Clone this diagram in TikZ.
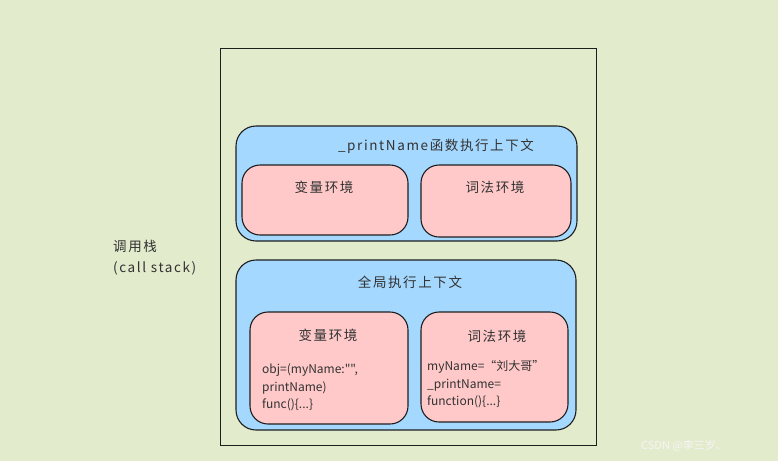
\documentclass[tikz,border=0pt]{standalone}
\usepackage{fontspec}
\setmainfont{Noto Sans CJK SC}
\newfontfamily\codefont{Noto Sans CJK SC}
\newfontfamily\headfont{Noto Sans CJK SC}[LetterSpace=12]
\usetikzlibrary{positioning}
\definecolor{bgreen}{RGB}{227,235,205}
\definecolor{ctxblue}{RGB}{165,216,255}
\definecolor{envpink}{RGB}{255,201,201}
\definecolor{inkdark}{RGB}{30,30,30}
\definecolor{txtgray}{RGB}{50,50,50}
\tikzset{
  ctxbox/.style={draw=inkdark, line width=1.1pt, fill=ctxblue, rounded corners=20pt},
  envbox/.style={draw=inkdark, line width=1.1pt, fill=envpink, rounded corners=18pt},
  headtxt/.style={text=txtgray, font=\headfont\fontsize{13.5}{15}\selectfont, inner sep=0pt},
  codetxt/.style={text=txtgray, font=\codefont\fontsize{12}{17.5}\selectfont, align=left, inner sep=0pt, anchor=west}
}
\begin{document}
\begin{tikzpicture}[x=1pt,y=-1pt]
\fill[bgreen] (0,0) rectangle (778,461);
\useasboundingbox (0,0) rectangle (778,461);
% call stack frame
\node[draw=inkdark, line width=0.9pt, minimum width=376pt, minimum height=397pt, inner sep=0pt] (stack) at (408,246.5) {};
\node[headtxt, align=left, anchor=west, font=\headfont\fontsize{13.5}{21}\selectfont] (stacklbl) at (113,257.5) {调用栈\\(call stack)};
% _printName context
\node[ctxbox, minimum width=341pt, minimum height=115pt] (fnctx) at (406.5,183.5) {};
\node[headtxt] (fnctxlbl) at (436,146) {\_printName函数执行上下文};
\node[envbox, minimum width=166pt, minimum height=70pt] (fnvar) at (325,200) {};
\node[envbox, minimum width=150pt, minimum height=72pt] (fnlex) at (496,201) {};
\node[headtxt] (fnvarlbl) at (324,187) {变量环境};
\node[headtxt] (fnlexlbl) at (495,187) {词法环境};
% global context
\node[ctxbox, minimum width=340pt, minimum height=170pt] (glctx) at (406,345) {};
\node[headtxt] (glctxlbl) at (410,282) {全局执行上下文};
\node[envbox, minimum width=158pt, minimum height=112pt] (glvar) at (329,368) {};
\node[envbox, minimum width=147pt, minimum height=110pt] (gllex) at (494.5,367) {};
\node[headtxt] (glvarlbl) at (328,335) {变量环境};
\node[headtxt] (gllexlbl) at (497,336) {词法环境};
\node[codetxt] (glvarcode) at (262,387.5) {obj=(myName:"",\\printName)\\func()\{...\}};
\node[codetxt] (gllexcode) at (427,384.5) {myName=“刘大哥”\\\_printName=\\function()\{...\}};
% watermark
\node[text=white!92!gray, font=\codefont\fontsize{11}{13}\selectfont, anchor=west, inner sep=0pt] (mark) at (641,446) {CSDN @李三岁、};
\end{tikzpicture}
\end{document}
